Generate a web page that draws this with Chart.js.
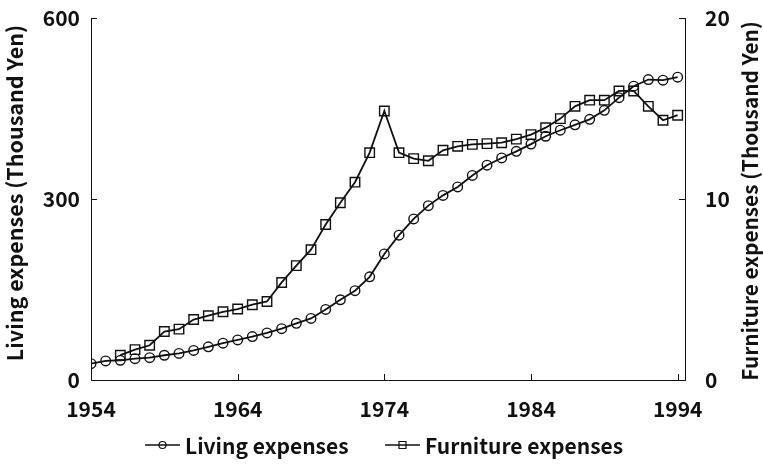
<!DOCTYPE html>
<html><head><meta charset="utf-8">
<script src="https://cdn.jsdelivr.net/npm/chart.js@4.4.0/dist/chart.umd.min.js"></script>
<style>html,body{margin:0;padding:0;background:#fff}#wrap{width:763px;height:466px}</style>
</head><body><div id="wrap"><canvas id="c" width="763" height="466"></canvas></div>
<script>
const years = [1954,1955,1956,1957,1958,1959,1960,1961,1962,1963,1964,1965,1966,1967,1968,1969,1970,1971,1972,1973,1974,1975,1976,1977,1978,1979,1980,1981,1982,1983,1984,1985,1986,1987,1988,1989,1990,1991,1992,1993,1994];
const livingExpenses = [27,31.6,32.7,35.4,37,41,44,49,55,61,66.5,72,78,85,94,102,117,133,148,171,209,240,267,289,306,320,339,356,368,379,391,404,414,423,432,447,468,487,498,497,502];
const furnitureYears = [1956,1957,1958,1959,1960,1961,1962,1963,1964,1965,1966,1967,1968,1969,1970,1971,1972,1973,1974,1975,1976,1977,1978,1979,1980,1981,1982,1983,1984,1985,1986,1987,1988,1989,1990,1991,1992,1993,1994];
const furnitureExpenses = [1.37,1.68,1.92,2.68,2.81,3.34,3.55,3.77,3.92,4.16,4.34,5.39,6.32,7.2,8.59,9.79,10.93,12.56,14.86,12.56,12.23,12.11,12.69,12.91,13.02,13.06,13.11,13.31,13.56,13.94,14.44,15.12,15.46,15.46,15.97,15.97,15.12,14.35,14.63];
const xTicks = [1954,1964,1974,1984,1994];
const leftTicks = [0,300,600];
const rightTicks = [0,10,20];
const leftTitle = 'Living expenses (Thousand Yen)';
const rightTitle = 'Furniture expenses (Thousand Yen)';

const FONT = "'Noto Sans CJK JP','Noto Sans',sans-serif";
const INK = '#111';

const decor = {
  id: 'decor',
  afterDraw(chart) {
    const ctx = chart.ctx, a = chart.chartArea;
    const sx = chart.scales.x, sy = chart.scales.y, sy1 = chart.scales.y1;
    ctx.save();
    ctx.strokeStyle = INK; ctx.lineWidth = 1;
    const TL = 6;
    ctx.beginPath();
    xTicks.forEach(v => { const p = Math.round(sx.getPixelForValue(v)) + 0.5; ctx.moveTo(p, a.bottom); ctx.lineTo(p, a.bottom - TL); });
    leftTicks.forEach(v => { const p = Math.round(sy.getPixelForValue(v)) + 0.5; ctx.moveTo(a.left, p); ctx.lineTo(a.left + TL, p); });
    rightTicks.forEach(v => { const p = Math.round(sy1.getPixelForValue(v)) + 0.5; ctx.moveTo(a.right, p); ctx.lineTo(a.right - TL, p); });
    ctx.stroke();
    // axis titles
    ctx.fillStyle = INK;
    ctx.textAlign = 'center'; ctx.textBaseline = 'alphabetic';
    ctx.font = 'bold 21.5px ' + FONT;
    ctx.save(); ctx.translate(23, 193); ctx.rotate(-Math.PI / 2); ctx.fillText(leftTitle, 0, 0); ctx.restore();
    ctx.font = 'bold 20.8px ' + FONT;
    ctx.save(); ctx.translate(758, 201); ctx.rotate(-Math.PI / 2); ctx.fillText(rightTitle, 0, 0); ctx.restore();
    // legend
    const items = [
      { ds: chart.data.datasets[0], x: 145, style: 'circle' },
      { ds: chart.data.datasets[1], x: 385, style: 'rect' }
    ];
    const ly = 445;
    ctx.font = 'bold 21px ' + FONT;
    ctx.textAlign = 'left'; ctx.textBaseline = 'middle';
    items.forEach(it => {
      ctx.strokeStyle = INK; ctx.lineWidth = 1.6;
      ctx.beginPath(); ctx.moveTo(it.x, ly); ctx.lineTo(it.x + 35, ly); ctx.stroke();
      ctx.lineWidth = 1.2;
      const cx = it.x + 17.5;
      ctx.beginPath();
      if (it.style === 'circle') ctx.arc(cx, ly, 3.5, 0, Math.PI * 2);
      else ctx.rect(cx - 3.5, ly - 3.5, 7, 7);
      ctx.stroke();
      ctx.fillText(it.ds.label, it.x + 40, ly + 1);
    });
    ctx.restore();
  }
};

const tickFont = { family: FONT, size: 21, weight: 'bold' };
const fitV = w => s => { s.width = w; s.paddingTop = 0; s.paddingBottom = 0; };

new Chart(document.getElementById('c'), {
  type: 'line',
  data: {
    datasets: [
      {
        label: 'Living expenses',
        data: years.map((y, i) => ({ x: y, y: livingExpenses[i] })),
        yAxisID: 'y',
        borderColor: INK, borderWidth: 1.8,
        pointStyle: 'circle', pointRadius: 4.8, pointBorderWidth: 1.4,
        pointBorderColor: INK, pointBackgroundColor: 'rgba(0,0,0,0)',
        tension: 0
      },
      {
        label: 'Furniture expenses',
        data: furnitureYears.map((y, i) => ({ x: y, y: furnitureExpenses[i] })),
        yAxisID: 'y1',
        borderColor: INK, borderWidth: 1.8,
        pointStyle: 'rect', pointRadius: 6.7, pointBorderWidth: 1.4,
        pointBorderColor: INK, pointBackgroundColor: 'rgba(0,0,0,0)',
        tension: 0
      }
    ]
  },
  options: {
    responsive: false, animation: false, devicePixelRatio: 1,
    layout: { padding: { top: 18, left: 0, right: 0, bottom: 0 } },
    plugins: { legend: { display: false }, tooltip: { enabled: false } },
    scales: {
      x: {
        type: 'linear', position: 'bottom', min: 1954, max: 1994.5,
        afterBuildTicks: s => { s.ticks = xTicks.map(v => ({ value: v })); },
        afterFit: s => { s.height = 86; s.paddingLeft = 0; s.paddingRight = 0; },
        grid: { display: false, drawTicks: false },
        border: { display: true, color: INK, width: 1 },
        ticks: { color: INK, padding: 16, font: tickFont, maxRotation: 0, autoSkip: false, callback: v => String(v) }
      },
      y: {
        type: 'linear', position: 'left', min: 0, max: 600,
        afterBuildTicks: s => { s.ticks = leftTicks.map(v => ({ value: v })); },
        afterFit: fitV(91),
        grid: { display: false, drawTicks: false },
        border: { display: true, color: INK, width: 1 },
        ticks: { color: INK, padding: 11, font: tickFont, callback: v => String(v) }
      },
      y1: {
        type: 'linear', position: 'right', min: 0, max: 20,
        afterBuildTicks: s => { s.ticks = rightTicks.map(v => ({ value: v })); },
        afterFit: fitV(78),
        grid: { display: false, drawTicks: false },
        border: { display: true, color: INK, width: 1 },
        ticks: { color: INK, padding: 20, font: tickFont, callback: v => String(v) }
      }
    }
  },
  plugins: [decor]
});
</script></body></html>
